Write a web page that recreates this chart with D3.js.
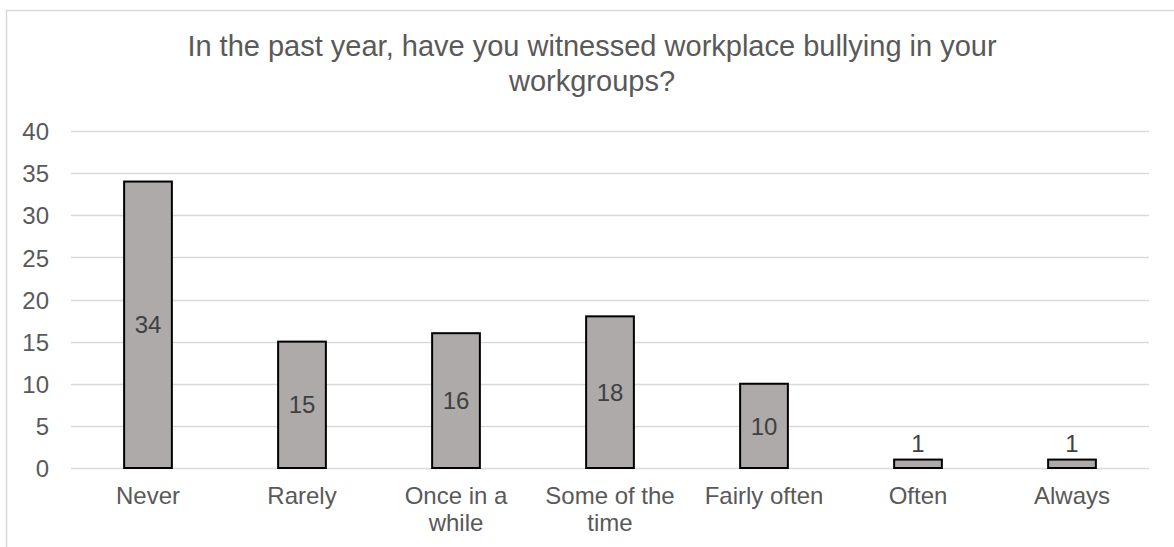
<!DOCTYPE html>
<html>
<head>
<meta charset="utf-8">
<script src="https://cdn.jsdelivr.net/npm/d3@7"></script>
<style>
  html, body { margin: 0; padding: 0; background: #fff; }
  svg { display: block; font-family: "Liberation Sans", Arial, sans-serif; }
</style>
</head>
<body>
<svg id="chart" width="1174" height="547"></svg>
<script>
// Survey responses: how often respondents saw workplace bullying
const titleText = "In the past year, have you witnessed workplace bullying in your workgroups?";
const categories = ["Never", "Rarely", "Once in a while", "Some of the time", "Fairly often", "Often", "Always"];
const counts = [34, 15, 16, 18, 10, 1, 1];
const yTicks = [0, 5, 10, 15, 20, 25, 30, 35, 40];

const W = 1174, H = 547;
const plot = { left: 71, right: 1149, top: 131, bottom: 468 };

const svg = d3.select("#chart");

// Chart area frame (continues past the right and bottom edges)
svg.append("rect")
  .attr("x", 6.5).attr("y", 10.5)
  .attr("width", 1200).attr("height", 600)
  .attr("fill", "#fff")
  .attr("stroke", "#d9d9d9").attr("stroke-width", 1.5);

const x = d3.scaleBand()
  .domain(categories)
  .range([plot.left, plot.right])
  .paddingInner(0.69)
  .paddingOuter(0.345);

const y = d3.scaleLinear()
  .domain([0, 40])
  .range([plot.bottom, plot.top]);

// Horizontal gridlines
svg.append("g")
  .selectAll("line")
  .data(yTicks)
  .join("line")
  .attr("x1", plot.left).attr("x2", plot.right)
  .attr("y1", d => Math.round(y(d)) + 0.5)
  .attr("y2", d => Math.round(y(d)) + 0.5)
  .attr("stroke", "#d9d9d9").attr("stroke-width", 1.5);

// Y axis labels
const yAxis = d3.axisLeft(y).tickValues(yTicks).tickSize(0).tickPadding(22);
const gy = svg.append("g")
  .attr("transform", `translate(${plot.left},0)`)
  .call(yAxis);
gy.select(".domain").remove();
gy.selectAll("text")
  .attr("font-family", "'Liberation Sans', Arial, sans-serif")
  .attr("font-size", 24)
  .attr("fill", "#595959")
  .attr("dy", "0.36em");

// Bars
svg.append("g")
  .selectAll("rect")
  .data(categories.map((c, i) => ({ c, v: counts[i] })))
  .join("rect")
  .attr("x", d => x(d.c))
  .attr("y", d => y(d.v))
  .attr("width", x.bandwidth())
  .attr("height", d => y(0) - y(d.v))
  .attr("fill", "#aeaaaa")
  .attr("stroke", "#000")
  .attr("stroke-width", 2);

// Value labels: centred in the bar, or just above it when the bar is too short
svg.append("g")
  .selectAll("text")
  .data(categories.map((c, i) => ({ c, v: counts[i] })))
  .join("text")
  .attr("x", d => x(d.c) + x.bandwidth() / 2)
  .attr("y", d => {
    const h = y(0) - y(d.v);
    return h > 30 ? (y(d.v) + y(0)) / 2 : y(d.v) - 16;
  })
  .attr("dy", "0.36em")
  .attr("text-anchor", "middle")
  .attr("font-size", 24)
  .attr("fill", "#404040")
  .text(d => d.v);

// Wrap a text element's words onto lines no wider than maxWidth
function wrap(textSel, maxWidth, lineHeight) {
  textSel.each(function () {
    const text = d3.select(this);
    const words = text.text().split(/\s+/);
    const xPos = text.attr("x");
    text.text(null);
    let line = [];
    let tspan = text.append("tspan").attr("x", xPos).attr("dy", 0);
    let lineNo = 0;
    for (const w of words) {
      line.push(w);
      tspan.text(line.join(" "));
      if (tspan.node().getComputedTextLength() > maxWidth && line.length > 1) {
        line.pop();
        tspan.text(line.join(" "));
        line = [w];
        lineNo++;
        tspan = text.append("tspan").attr("x", xPos).attr("dy", lineHeight).text(w);
      }
    }
  });
}

// Category labels
svg.append("g")
  .selectAll("text")
  .data(categories)
  .join("text")
  .attr("x", d => x(d) + x.bandwidth() / 2)
  .attr("y", 504)
  .attr("text-anchor", "middle")
  .attr("font-size", 24)
  .attr("fill", "#595959")
  .text(d => d)
  .call(wrap, x.step() - 14, 27);

// Title
svg.append("text")
  .attr("x", 592)
  .attr("y", 56)
  .attr("text-anchor", "middle")
  .attr("font-size", 29)
  .attr("fill", "#595959")
  .text(titleText)
  .call(wrap, 900, 35);
</script>
</body>
</html>
